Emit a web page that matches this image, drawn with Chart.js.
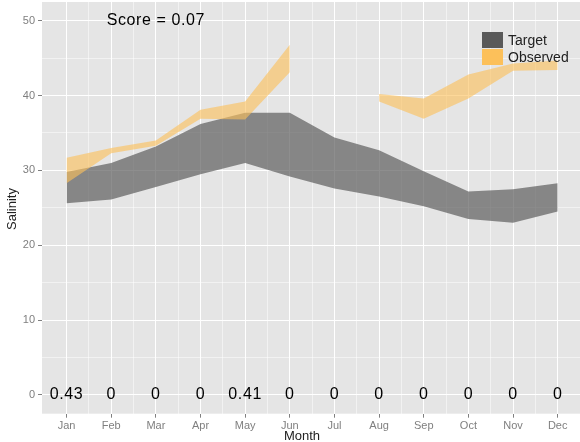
<!doctype html>
<html lang="en">
<head>
<meta charset="utf-8">
<title>Salinity by month</title>
<script src="https://cdn.jsdelivr.net/npm/chart.js@4.4.1/dist/chart.umd.min.js"></script>
<style>
  body { margin: 0; background: #fff; }
  canvas { display: block; }
</style>
</head>
<body>
<canvas id="myChart" width="580" height="442"></canvas>
<script>
// values
var months = ['Jan', 'Feb', 'Mar', 'Apr', 'May', 'Jun', 'Jul', 'Aug', 'Sep', 'Oct', 'Nov', 'Dec'];
var monthNum = [1, 2, 3, 4, 5, 6, 7, 8, 9, 10, 11, 12];
var targetUpper = [29.8, 31.0, 33.2, 36.2, 37.7, 37.7, 34.4, 32.7, 29.9, 27.2, 27.5, 28.3];
var targetLower = [25.6, 26.1, 27.8, 29.5, 31.0, 29.2, 27.6, 26.5, 25.2, 23.5, 23.0, 24.5];
var observedUpper = [31.7, 33.0, 34.0, 38.1, 39.2, 46.8, null, 40.2, 39.6, 42.8, 44.3, 44.7];
var observedLower = [28.3, 32.3, 33.3, 36.9, 36.8, 43.1, null, 39.2, 36.9, 39.6, 43.3, 43.4];
var monthScores = ['0.43', '0', '0', '0', '0.41', '0', '0', '0', '0', '0', '0', '0'];
var scoreText = 'Score = 0.07';
var yTicks = [0, 5, 10, 15, 20, 25, 30, 35, 40, 45, 50];

function pts(arr) {
  return monthNum.map(function (m, i) { return { x: m, y: arr[i] }; });
}

var FONT = '"Liberation Sans", Arial, sans-serif';

// panel background, text labels, legend, axis titles
var ggPlugin = {
  id: 'gg',
  beforeDraw: function (chart) {
    var c = chart.ctx, a = chart.chartArea;
    c.save();
    c.fillStyle = '#ffffff';
    c.fillRect(0, 0, chart.width, chart.height);
    c.fillStyle = '#e5e5e5';
    c.fillRect(a.left, a.top, a.right - a.left, a.bottom - a.top);
    c.restore();
  },
  afterDatasetsDraw: function (chart) {
    var c = chart.ctx, xs = chart.scales.x, ys = chart.scales.y;
    c.save();
    c.fillStyle = '#000';
    c.textAlign = 'center';
    c.textBaseline = 'middle';
    c.font = '16px ' + FONT;
    c.letterSpacing = '0.6px';
    monthScores.forEach(function (s, i) {
      c.fillText(s, xs.getPixelForValue(monthNum[i]), ys.getPixelForValue(0));
    });
    c.fillText(scoreText, xs.getPixelForValue(3), ys.getPixelForValue(50));
    c.letterSpacing = '0px';

    // legend
    c.fillStyle = '#595959';
    c.fillRect(482, 32, 21, 16);
    c.fillStyle = '#fcc05a';
    c.fillRect(482, 49, 21, 16);
    c.fillStyle = '#222';
    c.textAlign = 'left';
    c.font = '14px ' + FONT;
    c.fillText('Target', 508, 41);
    c.fillText('Observed', 508, 58);

    // axis titles
    c.textAlign = 'center';
    c.font = '13px ' + FONT;
    c.fillText('Month', 302, 436);
    c.translate(12, 209);
    c.rotate(-Math.PI / 2);
    c.fillText('Salinity', 0, 0);
    c.restore();
  }
};

var noBorder = { borderWidth: 0, pointRadius: 0, tension: 0, spanGaps: false };

var ctx = document.getElementById('myChart');
var myChart = new Chart(ctx, {
  type: 'line',
  data: {
    datasets: [
      Object.assign({ label: 'Observed', data: pts(observedUpper), fill: '+1',
        backgroundColor: 'rgba(252,192,90,0.62)', borderColor: 'rgba(0,0,0,0)' }, noBorder),
      Object.assign({ label: 'Observed low', data: pts(observedLower), fill: false,
        borderColor: 'rgba(0,0,0,0)' }, noBorder),
      Object.assign({ label: 'Target', data: pts(targetUpper), fill: '+1',
        backgroundColor: 'rgba(89,89,89,0.68)', borderColor: 'rgba(0,0,0,0)' }, noBorder),
      Object.assign({ label: 'Target low', data: pts(targetLower), fill: false,
        borderColor: 'rgba(0,0,0,0)' }, noBorder)
    ]
  },
  options: {
    responsive: false,
    animation: false,
    layout: { padding: { top: 2, right: 0, left: 0, bottom: 0 } },
    plugins: { legend: { display: false }, tooltip: { enabled: false } },
    scales: {
      x: {
        type: 'linear',
        min: 0.45,
        max: 12.5,
        afterBuildTicks: function (scale) {
          var t = [];
          for (var v = 1; v <= 12; v += 0.5) t.push({ value: v });
          scale.ticks = t;
        },
        afterFit: function (scale) {
          scale.height = 28.3;
          scale.paddingLeft = 0; scale.paddingRight = 0;
        },
        border: { display: false },
        grid: {
          color: function (c) { return c.tick && c.tick.value % 1 === 0 ? '#ffffff' : 'rgba(255,255,255,0.5)'; },
          lineWidth: 1,
          tickLength: 4,
          tickColor: function (c) { return c.tick && c.tick.value % 1 === 0 ? '#7f7f7f' : 'rgba(0,0,0,0)'; }
        },
        ticks: {
          autoSkip: false,
          maxRotation: 0,
          padding: 2,
          color: '#7f7f7f',
          font: { family: FONT, size: 11 },
          callback: function (v) { return v % 1 === 0 ? months[v - 1] : ''; }
        }
      },
      y: {
        min: -2.5,
        max: 52.5,
        afterBuildTicks: function (scale) {
          scale.ticks = yTicks.map(function (v) { return { value: v }; });
        },
        afterFit: function (scale) {
          scale.width = 42;
          scale.paddingTop = 0; scale.paddingBottom = 0;
        },
        border: { display: false },
        grid: {
          color: function (c) { return c.tick && c.tick.value % 10 === 0 ? '#ffffff' : 'rgba(255,255,255,0.5)'; },
          lineWidth: 1,
          tickLength: 4,
          tickColor: function (c) { return c.tick && c.tick.value % 10 === 0 ? '#7f7f7f' : 'rgba(0,0,0,0)'; }
        },
        ticks: {
          padding: 3,
          color: '#7f7f7f',
          font: { family: FONT, size: 11 },
          callback: function (v) { return v % 10 === 0 ? String(v) : ''; }
        }
      }
    }
  },
  plugins: [ggPlugin]
});
</script>
</body>
</html>
